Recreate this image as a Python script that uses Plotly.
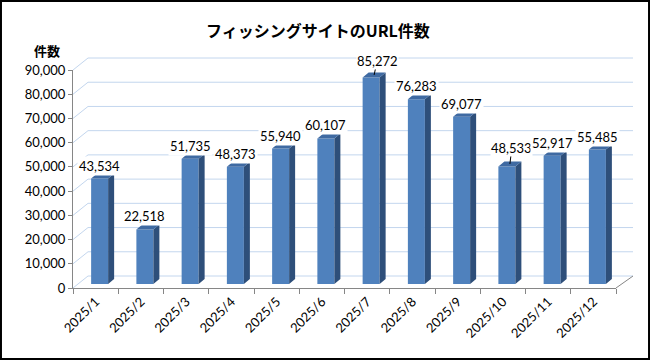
import plotly.graph_objects as go

categories = ["2025/1", "2025/2", "2025/3", "2025/4", "2025/5", "2025/6",
              "2025/7", "2025/8", "2025/9", "2025/10", "2025/11", "2025/12"]
values = [43534, 22518, 51735, 48373, 55940, 60107, 85272, 76283, 69077, 48533, 52917, 55485]
y_ticks = [0, 10000, 20000, 30000, 40000, 50000, 60000, 70000, 80000, 90000]
title_text = "フィッシングサイトのURL件数"
y_title = "件数"

W, H = 650, 360
YMAX = 90000
N = len(categories)

def px_x(p):
    return p / W

def px_y(p):
    return 1 - p / H

# plane geometry (pixels)
front = dict(x0=73, x1=616, yb=288, yt=70)
back = dict(x0=88, x1=633, yb=276, yt=58)
mid = dict(x0=80, x1=623, yb=284, yt=66)

def dom(pl):
    return [px_x(pl["x0"]), px_x(pl["x1"])], [px_y(pl["yb"]), px_y(pl["yt"])]

fx, fy = dom(front)
bx, by = dom(back)
mx, my = dom(mid)

front_blue = "#4F81BD"
side_blue = "#2E4F7A"
top_blue = "#3F6AA2"
grid_col = "#C3D6EE"
axis_col = "#868686"

fig = go.Figure()

# invisible trace to set category axis
fig.add_trace(go.Scatter(x=categories, y=[0] * N, mode="markers", opacity=0,
                         xaxis="x", yaxis="y", hoverinfo="skip", showlegend=False))

# 3D bars on middle plane (numeric axis)
cat_px = (mid["x1"] - mid["x0"]) / N
unit_px = (mid["yb"] - mid["yt"]) / YMAX
shift = -3 / cat_px
bw = 17 / cat_px
dx = 6 / cat_px
dy = 5 / unit_px

xs = [i + shift for i in range(N)]
fig.add_trace(go.Bar(x=xs, y=values, width=bw, marker=dict(color=front_blue, line=dict(width=0)),
                     xaxis="x3", yaxis="y3", hoverinfo="skip", showlegend=False))

side_x, side_y, top_x, top_y = [], [], [], []
for i, v in enumerate(values):
    xl = xs[i] - bw / 2
    xr = xs[i] + bw / 2
    side_x += [xr, xr + dx, xr + dx, xr, xr, None]
    side_y += [0, dy, v + dy, v, 0, None]
    top_x += [xl, xl + dx, xr + dx, xr, xl, None]
    top_y += [v, v + dy, v + dy, v, v, None]

fig.add_trace(go.Scatter(x=side_x, y=side_y, fill="toself", fillcolor=side_blue, mode="lines",
                         line=dict(width=0, color=side_blue), xaxis="x3", yaxis="y3",
                         hoverinfo="skip", showlegend=False))
fig.add_trace(go.Scatter(x=top_x, y=top_y, fill="toself", fillcolor=top_blue, mode="lines",
                         line=dict(width=0, color=top_blue), xaxis="x3", yaxis="y3",
                         hoverinfo="skip", showlegend=False))

shapes = []
# back wall gridlines and left wall diagonals
for t in y_ticks:
    yb_ = by[0] + t / YMAX * (by[1] - by[0])
    yf_ = fy[0] + t / YMAX * (fy[1] - fy[0])
    shapes.append(dict(type="line", xref="paper", yref="paper", x0=bx[0], x1=bx[1], y0=yb_, y1=yb_,
                       line=dict(color=grid_col, width=1), layer="below"))
    shapes.append(dict(type="line", xref="paper", yref="paper", x0=fx[0], x1=bx[0], y0=yf_, y1=yb_,
                       line=dict(color=grid_col, width=1), layer="below"))
# floor right edge
shapes.append(dict(type="line", xref="paper", yref="paper", x0=fx[1], x1=bx[1], y0=fy[0], y1=by[0],
                   line=dict(color=axis_col, width=1), layer="below"))
# outer border
shapes.append(dict(type="rect", xref="paper", yref="paper", x0=0.0015, x1=0.9985, y0=0.003, y1=0.997,
                   line=dict(color="black", width=2)))

label_font = dict(family="Lato", size=13, color="black")
annotations = []
lead = {6: (3, -14), 9: (2, -16)}
for i, v in enumerate(values):
    txt = f"{v:,}"
    if i in lead:
        ax_, ay_ = lead[i]
        annotations.append(dict(x=xs[i] + dx / 2, y=v + dy / 2, xref="x3", yref="y3", text=txt,
                                showarrow=True, arrowhead=0, arrowwidth=1, arrowcolor="black",
                                ax=ax_, ay=ay_, standoff=0, bgcolor="white", borderpad=0,
                                xanchor="center", yanchor="middle", font=label_font))
    else:
        annotations.append(dict(x=xs[i], y=v, xref="x3", yref="y3", text=txt,
                                showarrow=False, xanchor="center", yanchor="middle", yshift=13,
                                bgcolor="white", borderpad=1, font=label_font))

annotations.append(dict(x=px_x(318), y=px_y(30), xref="paper", yref="paper", text=f"<b>{title_text}</b>",
                        xanchor="center", yanchor="middle", showarrow=False,
                        font=dict(family="Noto Sans CJK JP", size=16, color="black")))
annotations.append(dict(x=px_x(47), y=px_y(51), xref="paper", yref="paper", text=f"<b>{y_title}</b>",
                        xanchor="center", yanchor="middle", showarrow=False,
                        font=dict(family="Noto Sans CJK JP", size=13, color="black")))

fig.update_layout(
    width=W, height=H,
    margin=dict(l=0, r=0, t=0, b=0, pad=0, autoexpand=False),
    paper_bgcolor="white", plot_bgcolor="rgba(0,0,0,0)",
    showlegend=False,
    shapes=shapes,
    annotations=annotations,
    xaxis=dict(domain=fx, type="category", categoryorder="array", categoryarray=categories,
               range=[-0.5, N - 0.5], tickson="boundaries", ticks="outside", ticklen=5,
               tickcolor=axis_col, showline=True, linecolor=axis_col, linewidth=1,
               showgrid=False, tickangle=-45, anchor="y", automargin=False,
               tickfont=dict(family="Lato", size=13, color="black")),
    yaxis=dict(domain=fy, range=[0, YMAX], tickvals=y_ticks, ticktext=[f"{t:,}" for t in y_ticks],
               ticks="outside", ticklen=4, tickcolor=axis_col, showline=True, linecolor=axis_col,
               linewidth=1, showgrid=False, zeroline=False, anchor="x", automargin=False,
               tickfont=dict(family="Lato", size=13, color="black")),
    xaxis3=dict(domain=mx, range=[-0.5, N - 0.5], visible=False, anchor="y3"),
    yaxis3=dict(domain=my, range=[0, YMAX], visible=False, anchor="x3"),
)

fig.write_html("out.html", config={"displayModeBar": False},
               post_script="document.body.style.margin='0';document.body.style.overflow='hidden';")
